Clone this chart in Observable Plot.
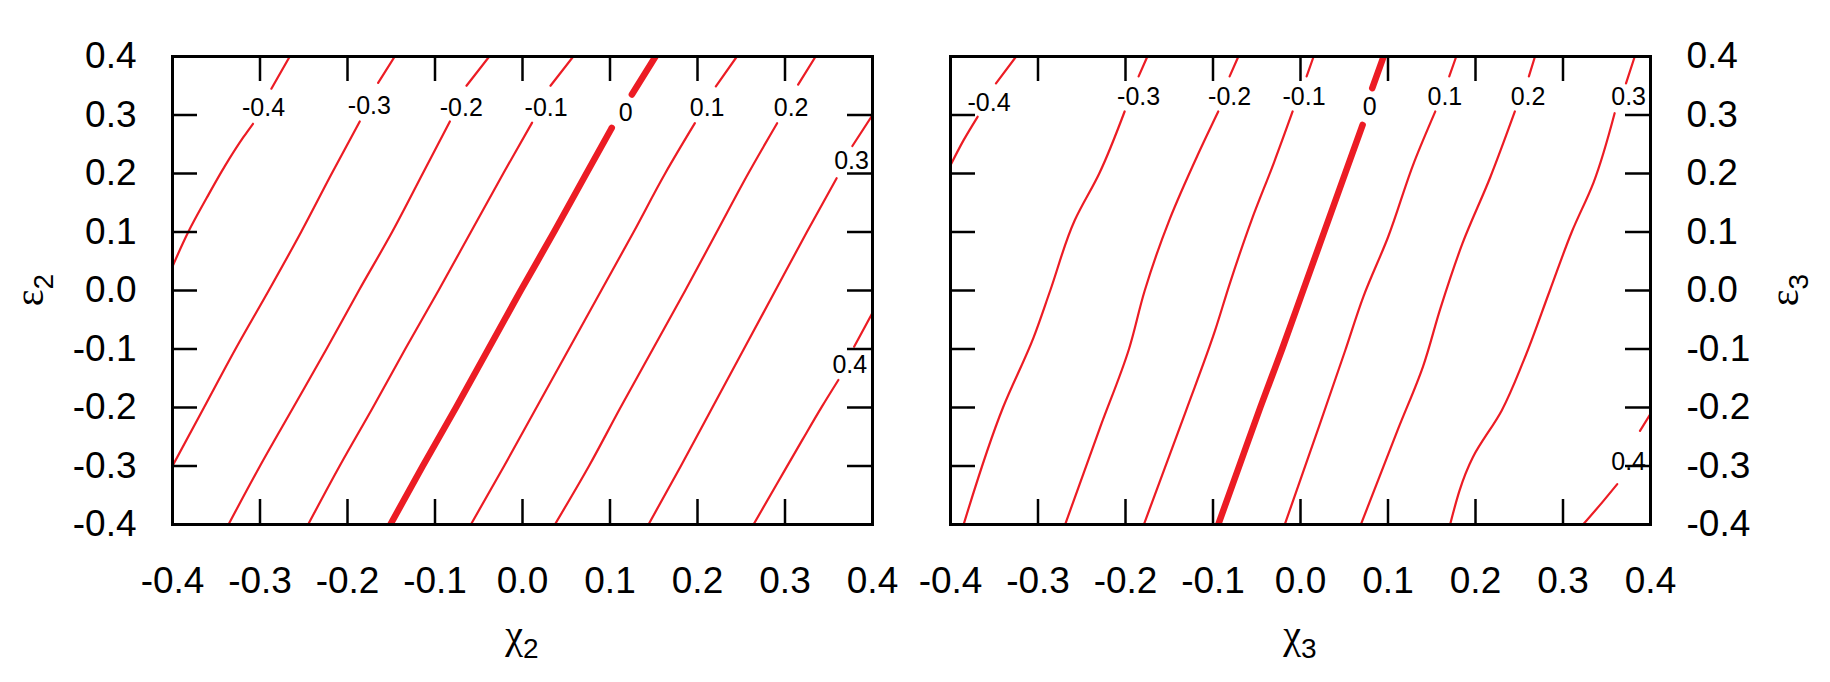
<!DOCTYPE html>
<html><head><meta charset="utf-8">
<script src="https://cdn.jsdelivr.net/npm/d3@7"></script>
<script src="https://cdn.jsdelivr.net/npm/@observablehq/plot@0.6"></script>
<style>
body{margin:0;background:#fff}
#wrap{position:relative;width:1830px;height:682px;font-family:"Liberation Sans",Arial,Helvetica,sans-serif}
#wrap svg{position:absolute;top:0}
</style>
</head><body><div id="wrap"></div>
<script>
// ---- data ----
const axisTicks = [-0.4,-0.3,-0.2,-0.1,0,0.1,0.2,0.3,0.4];
const levelNames = ["-0.4","-0.3","-0.2","-0.1","0","0.1","0.2","0.3","0.4"];

// left panel (chi2, eps2): each contour = list of segments (gaps where labels sit)
const Lm04 = [[[-0.400,0.041],[-0.382,0.100],[-0.361,0.158],[-0.340,0.213],[-0.319,0.262],[-0.308,0.285]],[[-0.287,0.345],[-0.266,0.400]]];
const Lm03 = [[[-0.400,-0.300],[-0.364,-0.200],[-0.328,-0.100],[-0.290,0.000],[-0.253,0.100],[-0.218,0.200],[-0.186,0.289]],[[-0.165,0.355],[-0.146,0.400]]];
const Lm02 = [[[-0.336,-0.400],[-0.300,-0.300],[-0.262,-0.200],[-0.224,-0.100],[-0.187,0.000],[-0.149,0.100],[-0.114,0.200],[-0.083,0.289]],[[-0.064,0.350],[-0.038,0.400]]];
const Lm01 = [[[-0.245,-0.400],[-0.209,-0.300],[-0.171,-0.200],[-0.134,-0.100],[-0.096,0.000],[-0.059,0.100],[-0.022,0.200],[0.011,0.287]],[[0.032,0.350],[0.058,0.400]]];
const L0   = [[[-0.151,-0.400],[-0.114,-0.300],[-0.076,-0.200],[-0.039,-0.100],[-0.002,0.000],[0.036,0.100],[0.073,0.200],[0.102,0.278]],[[0.125,0.335],[0.152,0.400]]];
const Lp01 = [[[-0.059,-0.400],[-0.021,-0.300],[0.016,-0.200],[0.053,-0.100],[0.090,0.000],[0.127,0.100],[0.163,0.200],[0.197,0.286]],[[0.221,0.349],[0.245,0.400]]];
const Lp02 = [[[0.037,-0.400],[0.076,-0.300],[0.112,-0.200],[0.149,-0.100],[0.186,0.000],[0.222,0.100],[0.258,0.200],[0.291,0.286]],[[0.315,0.352],[0.335,0.400]]];
const Lp03 = [[[0.144,-0.400],[0.181,-0.300],[0.217,-0.200],[0.253,-0.100],[0.289,0.000],[0.325,0.100],[0.359,0.192]],[[0.377,0.247],[0.400,0.300]]];
const Lp04 = [[[0.264,-0.400],[0.291,-0.330],[0.320,-0.255],[0.342,-0.199],[0.361,-0.153]],[[0.379,-0.096],[0.400,-0.038]]];
const leftLabelX = [-0.296,-0.175,-0.070,0.027,0.118,0.211,0.307,0.376,0.374];
const leftLabelY = [0.312,0.315,0.312,0.312,0.304,0.312,0.312,0.221,-0.127];

// right panel (chi3, eps3)
const Rm04 = [[[-0.400,0.214],[-0.385,0.257],[-0.369,0.297]],[[-0.348,0.354],[-0.325,0.400]]];
const Rm03 = [[[-0.385,-0.400],[-0.340,-0.200],[-0.305,-0.080],[-0.286,0.000],[-0.258,0.120],[-0.230,0.200],[-0.201,0.306]],[[-0.185,0.366],[-0.175,0.400]]];
const Rm02 = [[[-0.269,-0.400],[-0.229,-0.234],[-0.196,-0.100],[-0.178,0.000],[-0.150,0.120],[-0.118,0.230],[-0.094,0.306]],[[-0.081,0.366],[-0.071,0.400]]];
const Rm01 = [[[-0.179,-0.400],[-0.131,-0.206],[-0.098,-0.070],[-0.081,0.011],[-0.056,0.120],[-0.030,0.220],[-0.009,0.306]],[[0.007,0.366],[0.015,0.400]]];
const R0   = [[[-0.094,-0.400],[-0.070,-0.300],[-0.046,-0.200],[-0.021,-0.100],[0.003,0.000],[0.027,0.100],[0.051,0.200],[0.071,0.283]],[[0.082,0.346],[0.095,0.400]]];
const Rp01 = [[[-0.018,-0.400],[0.022,-0.229],[0.051,-0.103],[0.072,-0.010],[0.100,0.091],[0.130,0.220],[0.154,0.306]],[[0.170,0.366],[0.178,0.400]]];
const Rp02 = [[[0.069,-0.400],[0.112,-0.235],[0.140,-0.130],[0.160,-0.030],[0.185,0.080],[0.217,0.194],[0.245,0.306]],[[0.261,0.366],[0.268,0.400]]];
const Rp03 = [[[0.171,-0.400],[0.197,-0.285],[0.230,-0.205],[0.255,-0.120],[0.285,0.000],[0.310,0.100],[0.335,0.185],[0.359,0.303]],[[0.372,0.354],[0.382,0.400]]];
const Rp04 = [[[0.323,-0.400],[0.346,-0.360],[0.362,-0.331]],[[0.388,-0.240],[0.400,-0.211]]];
const rightLabelX = [-0.356,-0.185,-0.081,0.004,0.079,0.165,0.260,0.375,0.375];
const rightLabelY = [0.320,0.331,0.331,0.331,0.314,0.331,0.331,0.331,-0.294];

// ---- drawing ----
const RED = "#ec1c24";
const W = 915, H = 682, MT = 56, MB = 158;
const FH = H - MT - MB; // 468
const FW = 700;
const fmt = d => (+d).toFixed(1);

function rowsOf(contours) {
  const rows = [];
  contours.forEach((c, i) => c.forEach((seg, j) => seg.forEach(([x, y]) =>
    rows.push({x, y, seg: i + "-" + j, level: levelNames[i]}))));
  return rows;
}

function panel(contours, labX, labY, side, ml, mr) {
  const rows = rowsOf(contours);
  const labels = levelNames.map((t, i) => ({t, x: labX[i], y: labY[i]}));
  return Plot.plot({
    width: W, height: H,
    marginLeft: ml, marginRight: mr, marginTop: MT, marginBottom: MB,
    style: {fontFamily: '"Liberation Sans", Arial, sans-serif', background: "transparent"},
    x: {domain: [-0.4, 0.4]},
    y: {domain: [-0.4, 0.4]},
    marks: [
      Plot.line(rows.filter(d => d.level !== "0"), {x: "x", y: "y", z: "seg", curve: "monotone-y", stroke: RED, strokeWidth: 2.2, clip: true}),
      Plot.line(rows.filter(d => d.level === "0"), {x: "x", y: "y", z: "seg", curve: "monotone-y", stroke: RED, strokeWidth: 6.5, strokeLinecap: "round", clip: true}),
      Plot.text(labels, {x: "x", y: "y", text: "t", fontSize: 25, fill: "black"}),
      Plot.tickX(axisTicks, {x: d => d, insetTop: FH - 25, stroke: "black", strokeWidth: 2.5}),
      Plot.tickX(axisTicks, {x: d => d, insetBottom: FH - 25, stroke: "black", strokeWidth: 2.5}),
      Plot.tickY(axisTicks, {y: d => d, insetRight: FW - 25, stroke: "black", strokeWidth: 2.5}),
      Plot.tickY(axisTicks, {y: d => d, insetLeft: FW - 25, stroke: "black", strokeWidth: 2.5}),
      Plot.frame({stroke: "black", strokeWidth: 3}),
      Plot.axisX({ticks: axisTicks, tickSize: 0, tickPadding: 42, tickFormat: fmt, label: null, fontSize: 37, fill: "black"}),
      Plot.axisY({anchor: side, ticks: axisTicks, tickSize: 0, tickPadding: 36, tickFormat: fmt, label: null, fontSize: 37, fill: "black"})
    ]
  });
}

const wrap = document.getElementById("wrap");
const left = panel([Lm04, Lm03, Lm02, Lm01, L0, Lp01, Lp02, Lp03, Lp04], leftLabelX, leftLabelY, "left", 172, W - 172 - FW);
const right = panel([Rm04, Rm03, Rm02, Rm01, R0, Rp01, Rp02, Rp03, Rp04], rightLabelX, rightLabelY, "right", 35, W - 35 - FW);
left.style.left = "0px";
right.style.left = "915px";
wrap.appendChild(left);
wrap.appendChild(right);

function title(svg, main, sub, x, y, rotate) {
  const t = d3.select(svg).append("text")
    .attr("transform", `translate(${x},${y})` + (rotate ? " rotate(-90)" : ""))
    .attr("text-anchor", "middle")
    .attr("fill", "black");
  t.append("tspan").attr("font-family", '"Liberation Serif", "DejaVu Serif", serif').attr("font-size", 40).text(main);
  t.append("tspan").attr("font-family", '"Liberation Sans", Arial, sans-serif').attr("font-size", 28).attr("dy", 10).text(sub);
}
title(left, "χ", "2", 522, 648, false);
title(left, "ε", "2", 43, 290, true);
title(right, "χ", "3", 385, 648, false);
title(right, "ε", "3", 883, 290, true);
</script>
</body></html>
